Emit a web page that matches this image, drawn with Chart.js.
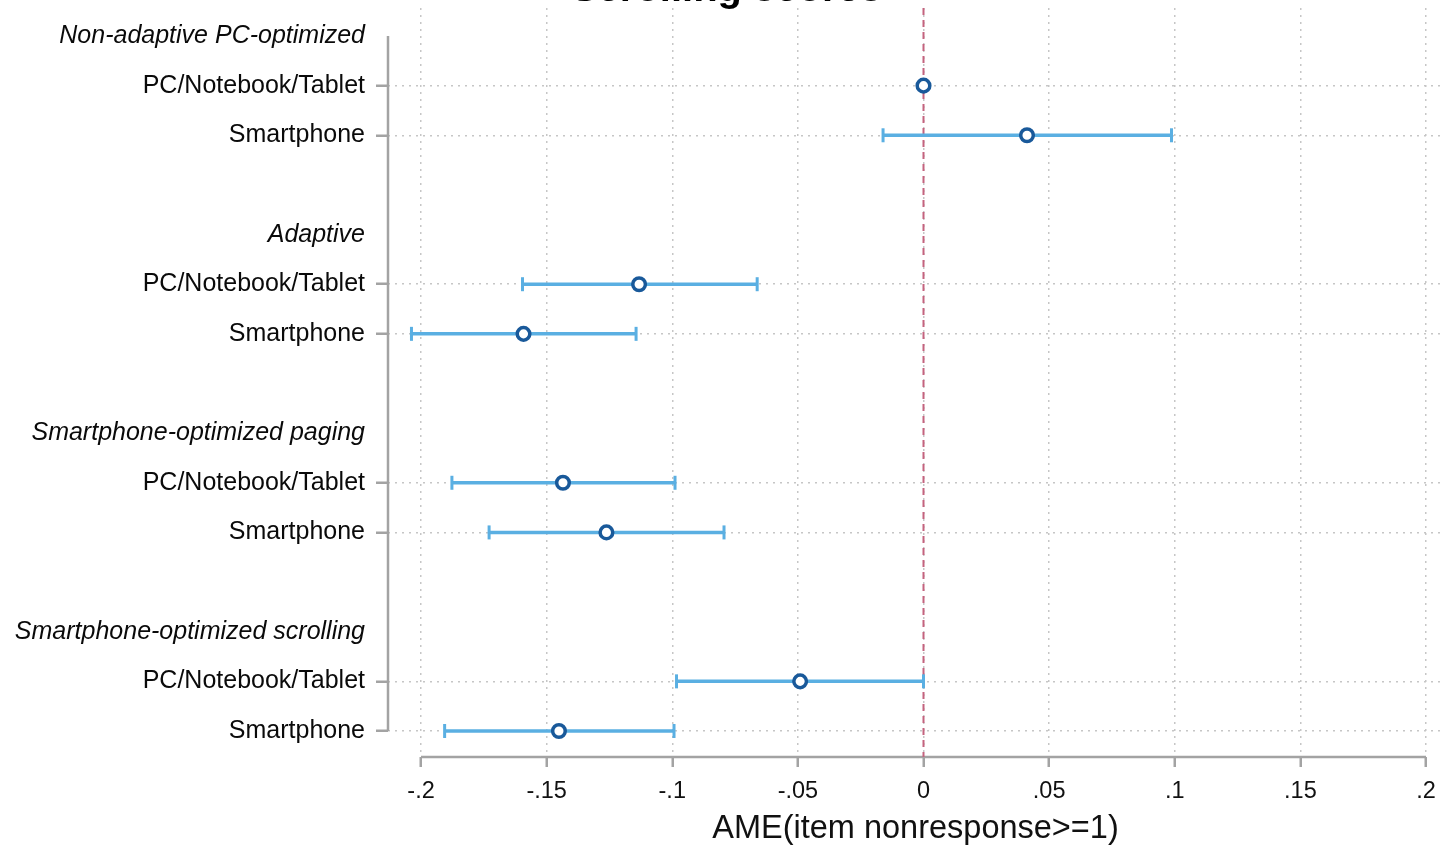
<!DOCTYPE html>
<html>
<head>
<meta charset="utf-8">
<script src="https://cdn.jsdelivr.net/npm/chart.js@4.4.1/dist/chart.umd.min.js"></script>
<style>
  html, body { margin: 0; padding: 0; background: #ffffff; overflow: hidden; }
  #wrap { position: absolute; left: 0; top: -32px; width: 1453px; height: 881px; }
</style>
</head>
<body>
<div id="wrap"><canvas id="c" width="1453" height="881"></canvas></div>
<script>
// Survey design groups and devices (rows of the coefficient plot)
const groups = [
  'Non-adaptive PC-optimized',
  'Adaptive',
  'Smartphone-optimized paging',
  'Smartphone-optimized scrolling'
];
const devices = ['PC/Notebook/Tablet', 'Smartphone'];

// Average marginal effects, in group/device order (PC, Smartphone per group)
const estimates = [0, 0.0412, -0.1132, -0.1592, -0.1435, -0.1262, -0.0491, -0.1451];
// 95% confidence interval bounds (reference category has none)
const ciLow  = [null, -0.0161, -0.1596, -0.2038, -0.1877, -0.1729, -0.0983, -0.1906];
const ciHigh = [null,  0.0987, -0.0662, -0.1144, -0.0989, -0.0794,  0.0000, -0.0993];

// X axis ticks
const xTickValues = [-0.2, -0.15, -0.1, -0.05, 0, 0.05, 0.1, 0.15, 0.2];
const xTickLabels = ['-.2', '-.15', '-.1', '-.05', '0', '.05', '.1', '.15', '.2'];

const FONT = "'Liberation Sans', Arial, Helvetica, sans-serif";

// Row layout: group header, one row per device, blank spacer between groups
const rowLabels = [];
const headerRows = [];
const itemRows = [];
groups.forEach((g, gi) => {
  headerRows.push(rowLabels.length);
  rowLabels.push(g);
  devices.forEach(d => { itemRows.push(rowLabels.length); rowLabels.push(d); });
  if (gi < groups.length - 1) rowLabels.push('');
});
const rowOf = k => itemRows[k];

const ciColor = '#5aafe2';
const markerColor = '#19599a';

const ciDatasets = estimates.map((e, k) => ciLow[k] === null ? null : ({
  data: [{ x: ciLow[k], y: rowOf(k) }, { x: ciHigh[k], y: rowOf(k) }],
  showLine: true,
  borderColor: ciColor,
  borderWidth: 3.5,
  pointStyle: 'line',
  pointRotation: 90,
  pointRadius: 7,
  pointHoverRadius: 7,
  pointBorderWidth: 3,
  pointBorderColor: ciColor,
  pointBackgroundColor: ciColor,
  order: 1
})).filter(Boolean);

const pointDataset = {
  data: estimates.map((e, k) => ({ x: e, y: rowOf(k) })),
  pointStyle: 'circle',
  pointRadius: 6.3,
  pointHoverRadius: 6.3,
  pointBorderWidth: 3.5,
  borderColor: markerColor,
  backgroundColor: '#ffffff',
  order: 0
};

// Axis lines spanning only the labelled range, plus the dashed zero reference line
const axisLines = {
  id: 'axisLines',
  beforeDatasetsDraw(chart) {
    const { ctx, chartArea, scales: { x, y } } = chart;
    ctx.save();
    ctx.strokeStyle = '#a3a3a3';
    ctx.lineWidth = 2.5;
    ctx.beginPath();
    ctx.moveTo(chartArea.left, y.getPixelForValue(0));
    ctx.lineTo(chartArea.left, y.getPixelForValue(rowLabels.length - 1));
    ctx.moveTo(x.getPixelForValue(xTickValues[0]), chartArea.bottom);
    ctx.lineTo(x.getPixelForValue(xTickValues[xTickValues.length - 1]), chartArea.bottom);
    ctx.stroke();
    const x0 = x.getPixelForValue(0);
    ctx.strokeStyle = '#c4637e';
    ctx.lineWidth = 2;
    ctx.setLineDash([7, 5]);
    ctx.beginPath();
    ctx.moveTo(x0, chartArea.top);
    ctx.lineTo(x0, chartArea.bottom);
    ctx.stroke();
    ctx.restore();
  }
};

new Chart(document.getElementById('c'), {
  type: 'scatter',
  data: { datasets: [pointDataset, ...ciDatasets] },
  plugins: [axisLines],
  options: {
    responsive: false,
    devicePixelRatio: 1,
    animation: false,
    events: [],
    layout: { padding: 0 },
    plugins: {
      legend: { display: false },
      tooltip: { enabled: false },
      title: {
        display: true,
        text: 'Scrolling scores',
        color: '#000',
        font: { family: FONT, size: 40, weight: 'bold', lineHeight: 1 },
        padding: { top: 2, bottom: -2 }
      }
    },
    scales: {
      x: {
        type: 'linear',
        min: -0.21314,
        max: 0.20677,
        afterBuildTicks: s => { s.ticks = xTickValues.map(v => ({ value: v })); },
        afterFit: s => { s.height = 92; },
        border: { display: false, dash: [2, 5] },
        grid: {
          color: '#c6c6c6',
          lineWidth: 1.5,
          tickLength: 10,
          tickColor: '#a3a3a3',
          tickWidth: 2.5,
          tickBorderDash: []
        },
        ticks: {
          autoSkip: false,
          maxRotation: 0,
          padding: 10,
          color: '#111',
          font: { family: FONT, size: 23.5 },
          callback: v => {
            const i = xTickValues.findIndex(t => Math.abs(t - v) < 1e-9);
            return i >= 0 ? xTickLabels[i] : '';
          }
        },
        title: {
          display: true,
          text: 'AME(item nonresponse>=1)',
          color: '#111',
          font: { family: FONT, size: 32.5 },
          padding: { top: 0, bottom: 0 }
        }
      },
      y: {
        type: 'linear',
        reverse: true,
        min: -0.564,
        max: 14.524,
        afterBuildTicks: s => { s.ticks = rowLabels.map((_, i) => ({ value: i })); },
        afterFit: s => { s.width = 388; },
        border: { display: false, dash: [2, 5] },
        grid: {
          color: c => itemRows.includes(c.tick && c.tick.value) ? '#c6c6c6' : 'rgba(0,0,0,0)',
          lineWidth: 1.5,
          tickLength: 12,
          tickColor: c => itemRows.includes(c.tick && c.tick.value) ? '#a3a3a3' : 'rgba(0,0,0,0)',
          tickWidth: 2.5,
          tickBorderDash: []
        },
        ticks: {
          autoSkip: false,
          padding: 11,
          color: '#0a0a0a',
          font: c => ({
            family: FONT,
            size: 25,
            style: headerRows.includes(c.tick && c.tick.value) ? 'italic' : 'normal'
          }),
          callback: v => rowLabels[v] !== undefined ? rowLabels[v] : ''
        }
      }
    }
  }
});
</script>
</body>
</html>
